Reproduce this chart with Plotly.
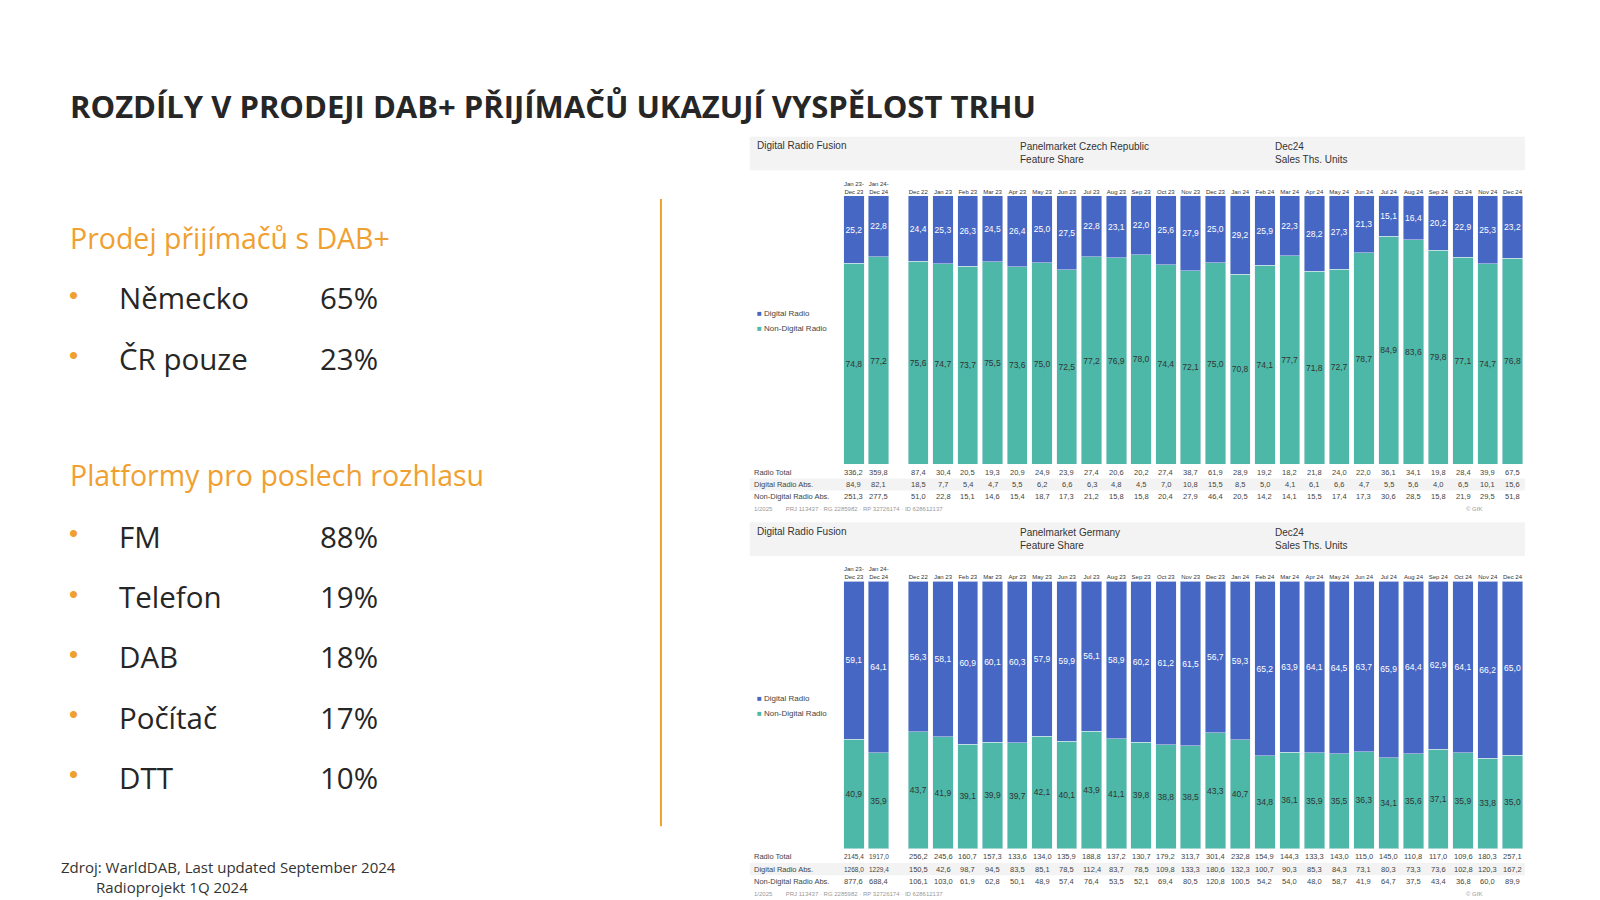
import plotly.graph_objects as go

# --- data ---
periods = ["Jan 23-<br>Dec 23", "Jan 24-<br>Dec 24", "Dec 22", "Jan 23", "Feb 23", "Mar 23", "Apr 23", "May 23",
           "Jun 23", "Jul 23", "Aug 23", "Sep 23", "Oct 23", "Nov 23", "Dec 23", "Jan 24", "Feb 24", "Mar 24",
           "Apr 24", "May 24", "Jun 24", "Jul 24", "Aug 24", "Sep 24", "Oct 24", "Nov 24", "Dec 24"]

cz_digital = [25.2, 22.8, 24.4, 25.3, 26.3, 24.5, 26.4, 25.0, 27.5, 22.8, 23.1, 22.0, 25.6, 27.9, 25.0, 29.2,
              25.9, 22.3, 28.2, 27.3, 21.3, 15.1, 16.4, 20.2, 22.9, 25.3, 23.2]
cz_nondigital = [74.8, 77.2, 75.6, 74.7, 73.7, 75.5, 73.6, 75.0, 72.5, 77.2, 76.9, 78.0, 74.4, 72.1, 75.0, 70.8,
                 74.1, 77.7, 71.8, 72.7, 78.7, 84.9, 83.6, 79.8, 77.1, 74.7, 76.8]
cz_total = [336.2, 359.8, 87.4, 30.4, 20.5, 19.3, 20.9, 24.9, 23.9, 27.4, 20.6, 20.2, 27.4, 38.7, 61.9, 28.9,
            19.2, 18.2, 21.8, 24.0, 22.0, 36.1, 34.1, 19.8, 28.4, 39.9, 67.5]
cz_dig_abs = [84.9, 82.1, 18.5, 7.7, 5.4, 4.7, 5.5, 6.2, 6.6, 6.3, 4.8, 4.5, 7.0, 10.8, 15.5, 8.5, 5.0, 4.1,
              6.1, 6.6, 4.7, 5.5, 5.6, 4.0, 6.5, 10.1, 15.6]
cz_non_abs = [251.3, 277.5, 51.0, 22.8, 15.1, 14.6, 15.4, 18.7, 17.3, 21.2, 15.8, 15.8, 20.4, 27.9, 46.4, 20.5,
              14.2, 14.1, 15.5, 17.4, 17.3, 30.6, 28.5, 15.8, 21.9, 29.5, 51.8]

de_digital = [59.1, 64.1, 56.3, 58.1, 60.9, 60.1, 60.3, 57.9, 59.9, 56.1, 58.9, 60.2, 61.2, 61.5, 56.7, 59.3,
              65.2, 63.9, 64.1, 64.5, 63.7, 65.9, 64.4, 62.9, 64.1, 66.2, 65.0]
de_nondigital = [40.9, 35.9, 43.7, 41.9, 39.1, 39.9, 39.7, 42.1, 40.1, 43.9, 41.1, 39.8, 38.8, 38.5, 43.3, 40.7,
                 34.8, 36.1, 35.9, 35.5, 36.3, 34.1, 35.6, 37.1, 35.9, 33.8, 35.0]
de_total = [2145.4, 1917.0, 256.2, 245.6, 160.7, 157.3, 133.6, 134.0, 135.9, 188.8, 137.2, 130.7, 179.2, 313.7,
            301.4, 232.8, 154.9, 144.3, 133.3, 143.0, 115.0, 145.0, 110.8, 117.0, 109.6, 180.3, 257.1]
de_dig_abs = [1268.0, 1229.4, 150.5, 42.6, 98.7, 94.5, 83.5, 85.1, 78.5, 112.4, 83.7, 78.5, 109.8, 133.3, 180.6,
              132.3, 100.7, 90.3, 85.3, 84.3, 73.1, 80.3, 73.3, 73.6, 102.8, 120.3, 167.2]
de_non_abs = [877.6, 688.4, 106.1, 103.0, 61.9, 62.8, 50.1, 48.9, 57.4, 76.4, 53.5, 52.1, 69.4, 80.5, 120.8,
              100.5, 54.2, 54.0, 48.0, 58.7, 41.9, 64.7, 37.5, 43.4, 36.8, 60.0, 89.9]

dab_countries = ["Německo", "ČR pouze"]
dab_shares = ["65%", "23%"]
platforms = ["FM", "Telefon", "DAB", "Počítač", "DTT"]
platform_shares = ["88%", "19%", "18%", "17%", "10%"]

BLUE = "#4767c4"
TEAL = "#4db8a8"
ORANGE = "#f0a030"
W, H = 1600, 900
S = 1.02  # reference pixel scale


def px(x):
    return x * S / W


def py(y):
    return 1 - y * S / H


def note(x, y, text, size, color="#262626", anchor="left", **kw):
    fig.add_annotation(x=px(x), y=py(y), xref="paper", yref="paper", text=text, showarrow=False,
                       xanchor=anchor, yanchor="middle", font=dict(size=size, color=color, family=kw.pop("family", None)),
                       **kw)


def fmt(v):
    return f"{v:.1f}".replace(".", ",")


# gap after the two summary bars
xpos = [i if i < 2 else i + 0.6 for i in range(len(periods))]

fig = go.Figure()


def add_panel(xa, ya, digital, nondig, totals, dabs, nabs, top_px, bot_px, country):
    fig.add_bar(x=xpos, y=nondig, marker_color=TEAL, xaxis=xa, yaxis=ya, width=0.82,
                text=[fmt(v) for v in nondig], textposition="inside", textangle=0, constraintext="none",
                textfont=dict(size=8.5, color="#333"), insidetextanchor="middle", showlegend=False)
    fig.add_bar(x=xpos, y=digital, marker_color=BLUE, xaxis=xa, yaxis=ya, width=0.82,
                text=[fmt(v) for v in digital], textposition="inside", textangle=0, constraintext="none",
                textfont=dict(size=8.5, color="white"), insidetextanchor="middle", showlegend=False)
    n = xa.replace("x", "xaxis")
    m = ya.replace("y", "yaxis")
    fig.layout[n] = dict(domain=[px(825), px(1495)], anchor=ya, side="top", tickvals=xpos, ticktext=periods,
                         tickfont=dict(size=6, color="#333"), showgrid=False, zeroline=False,
                         range=[-0.5, xpos[-1] + 0.5], ticks="")
    fig.layout[m] = dict(domain=[py(bot_px), py(top_px)], range=[0, 100], visible=False)
    # header band
    fig.add_shape(type="rect", xref="paper", yref="paper", x0=px(735), x1=px(1495),
                  y0=py(top_px - 25), y1=py(top_px - 58), fillcolor="#f3f3f3", line_width=0, layer="below")
    note(740, top_px - 49, "Digital Radio Fusion", 10, "#333")
    note(998, top_px - 42, f"Panelmarket {country}<br>Feature Share", 10, "#333", align="left")
    note(1248, top_px - 42, "Dec24<br>Sales Ths. Units", 10, "#333", align="left")
    # legend
    leg_y = top_px + (bot_px - top_px) * 0.44
    for i, (c, t) in enumerate([(BLUE, "Digital Radio"), (TEAL, "Non-Digital Radio")]):
        note(740, leg_y + i * 14, f"<span style='color:{c}'>■</span> {t}", 8, "#444")
    # table rows
    rows = [("Radio Total", totals), ("Digital Radio Abs.", dabs), ("Non-Digital Radio Abs.", nabs)]
    for r, (lab, vals) in enumerate(rows):
        yy = bot_px + 8 + r * 12
        if r == 1:
            fig.add_shape(type="rect", xref="paper", yref="paper", x0=px(735), x1=px(1495),
                          y0=py(yy + 6), y1=py(yy - 6), fillcolor="#f3f3f3", line_width=0, layer="below")
        note(737, yy, lab, 7.5, "#444")
        for xv, v in zip(xpos, vals):
            fig.add_annotation(x=xv, y=py(yy), xref=xa, yref="paper", text=fmt(v), showarrow=False,
                               yanchor="middle", font=dict(size=6.5 if v >= 1000 else 7.5, color="#444"))
    note(737, bot_px + 44, "1/2025        PRJ 113437 · RG 2285982 · RP 32726174 · ID 628612137", 6, "#999")
    note(1445, bot_px + 44, "© GfK", 6, "#999", anchor="center")


add_panel("x", "y", cz_digital, cz_nondigital, cz_total, cz_dig_abs, cz_non_abs, 192, 455, "Czech Republic")
add_panel("x2", "y2", de_digital, de_nondigital, de_total, de_dig_abs, de_non_abs, 570, 832, "Germany")

# left side text
note(67, 104, "<b>ROZDÍLY V PRODEJI DAB+ PŘIJÍMAČŮ UKAZUJÍ VYSPĚLOST TRHU</b>", 31, family="Open Sans")
note(67, 233, "Prodej přijímačů s DAB+", 28.5, ORANGE, family="Open Sans")
note(67, 466, "Platformy pro poslech rozhlasu", 28.5, ORANGE, family="Open Sans")


def bullets(labels, vals, y0, step):
    for i, (lab, v) in enumerate(zip(labels, vals)):
        y = y0 + i * step
        note(66, y - 3, "•", 26, ORANGE)
        note(115, y, lab, 29.5, family="Open Sans")
        note(312, y, v, 29.5, family="Open Sans")


bullets(dab_countries, dab_shares, 292, 59)
bullets(platforms, platform_shares, 526, 59)

note(58, 860, "Zdroj: WarldDAB, Last updated September 2024<br>         Radioprojekt 1Q 2024", 15, "#333",
     align="left", family="Open Sans")
fig.add_shape(type="line", xref="paper", yref="paper", x0=px(648), x1=px(648), y0=py(195), y1=py(810),
              line=dict(color=ORANGE, width=2))

fig.update_layout(width=W, height=H, barmode="stack", margin=dict(l=0, r=0, t=0, b=0),
                  plot_bgcolor="white", paper_bgcolor="white", showlegend=False,
                  font=dict(family="Liberation Sans"))
fig.write_html("out.html", config={"displayModeBar": False},
               post_script="document.body.style.margin='0';document.body.style.overflow='hidden';")
